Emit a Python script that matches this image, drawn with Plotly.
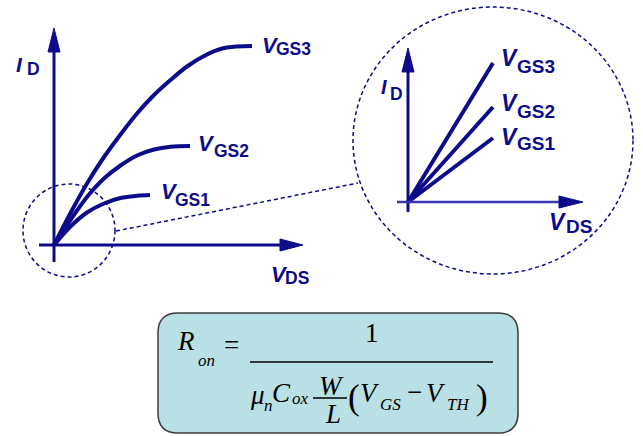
import plotly.graph_objects as go

W, H = 643, 436
NAVY = "#0c0c8a"

# ---- data ----
series_names = ["GS1", "GS2", "GS3"]
vds_gs1 = [0, 0.33, 0.66, 1.00, 1.33, 1.66, 1.92]
id_gs1 = [0, 0.37, 0.65, 0.83, 0.94, 0.985, 1.00]
vds_gs2 = [0, 0.33, 0.66, 1.00, 1.33, 1.66, 2.00, 2.33, 2.72]
id_gs2 = [0, 0.50, 0.96, 1.33, 1.59, 1.79, 1.91, 1.965, 1.98]
vds_gs3 = [0, 0.33, 0.66, 1.00, 1.33, 1.66, 2.00, 2.33, 2.66, 3.00, 3.33, 3.66, 3.96]
id_gs3 = [0, 0.64, 1.23, 1.76, 2.21, 2.63, 3.00, 3.30, 3.57, 3.78, 3.92, 3.97, 3.98]
# deep triode (zoomed) lines
inset_vds = [0, 1.70]
inset_id_gs1 = [0, 1.28]
inset_id_gs2 = [0, 1.90]
inset_id_gs3 = [0, 2.78]


def px(x):
    return x / W


def py(y):
    return 1 - y / H


fig = go.Figure()

# main curves
for xs, ys in [(vds_gs1, id_gs1), (vds_gs2, id_gs2), (vds_gs3, id_gs3)]:
    fig.add_trace(go.Scatter(x=xs, y=ys, mode="lines", line=dict(color=NAVY, width=4, shape="spline", smoothing=1.0),
                             hoverinfo="skip", showlegend=False, xaxis="x", yaxis="y"))
# inset lines
for ys in [inset_id_gs1, inset_id_gs2, inset_id_gs3]:
    fig.add_trace(go.Scatter(x=inset_vds, y=ys, mode="lines", line=dict(color=NAVY, width=4),
                             hoverinfo="skip", showlegend=False, xaxis="x2", yaxis="y2"))


def arrow_axes(xa, ya, xmin, xbase, xtip, ymin, ybase, ytip, hw, xcolor, xwidth):
    # vertical axis
    fig.add_trace(go.Scatter(x=[0, 0], y=[ymin, ybase + 0.05], mode="lines", line=dict(color=NAVY, width=3),
                             hoverinfo="skip", showlegend=False, xaxis=xa, yaxis=ya))
    fig.add_trace(go.Scatter(x=[-hw, hw, 0, -hw], y=[ybase, ybase, ytip, ybase], mode="lines", fill="toself",
                             fillcolor=NAVY, line=dict(color=NAVY, width=1),
                             hoverinfo="skip", showlegend=False, xaxis=xa, yaxis=ya))
    # horizontal axis
    fig.add_trace(go.Scatter(x=[xmin, xbase + 0.05], y=[0, 0], mode="lines", line=dict(color=xcolor, width=xwidth),
                             hoverinfo="skip", showlegend=False, xaxis=xa, yaxis=ya))
    fig.add_trace(go.Scatter(x=[xbase, xbase, xtip, xbase], y=[-hw, hw, 0, -hw], mode="lines", fill="toself",
                             fillcolor=NAVY, line=dict(color=NAVY, width=1),
                             hoverinfo="skip", showlegend=False, xaxis=xa, yaxis=ya))


arrow_axes("x", "y", -0.3, 4.52, 4.98, -0.34, 3.86, 4.34, 0.12, NAVY, 3)
arrow_axes("x2", "y2", -0.22, 3.02, 3.50, -0.2, 2.60, 3.08, 0.12, "#3636b0", 2.5)

shapes = []
dash = "4px,3px"
# small dashed circle
shapes.append(dict(type="circle", xref="paper", yref="paper", x0=px(23), x1=px(115), y0=py(277), y1=py(184),
                   line=dict(color=NAVY, width=1.5, dash=dash)))
# big dashed circle
shapes.append(dict(type="circle", xref="paper", yref="paper", x0=px(353), x1=px(633), y0=py(274), y1=py(7),
                   line=dict(color=NAVY, width=1.5, dash=dash)))
# connecting dashed line
shapes.append(dict(type="line", xref="paper", yref="paper", x0=px(116), y0=py(231), x1=px(358), y1=py(183),
                   line=dict(color=NAVY, width=1.5, dash=dash)))

# formula box (rounded)
bx0, bx1, by0, by1, r = 158, 518, 313, 433, 20
pts = [
    ("M", bx0 + r, by0), ("L", bx1 - r, by0), ("Q", bx1, by0, bx1, by0 + r), ("L", bx1, by1 - r),
    ("Q", bx1, by1, bx1 - r, by1), ("L", bx0 + r, by1), ("Q", bx0, by1, bx0, by1 - r), ("L", bx0, by0 + r),
    ("Q", bx0, by0, bx0 + r, by0),
]
path = ""
for p in pts:
    cmd = p[0]
    coords = p[1:]
    s = " ".join(f"{px(coords[i]):.5f},{py(coords[i + 1]):.5f}" for i in range(0, len(coords), 2))
    path += f"{cmd}{s} "
path += "Z"
shapes.append(dict(type="path", xref="paper", yref="paper", path=path, fillcolor="#b9e0e4",
                   line=dict(color="#3c3c3c", width=1.5), layer="below"))
# fraction bars
shapes.append(dict(type="line", xref="paper", yref="paper", x0=px(250), x1=px(493), y0=py(362), y1=py(362),
                   line=dict(color="black", width=1.3)))
shapes.append(dict(type="line", xref="paper", yref="paper", x0=px(313), x1=px(347), y0=py(398), y1=py(398),
                   line=dict(color="black", width=1.3)))

ann = []


def txt(t, x, y, size, family="Liberation Sans", color=NAVY, xanchor="left"):
    ann.append(dict(text=t, x=px(x), y=py(y), xref="paper", yref="paper", xanchor=xanchor, yanchor="middle",
                    showarrow=False, font=dict(family=family, size=size, color=color), borderpad=0))


# left labels
txt("<b><i>I</i></b>", 15, 65, 21)
txt("<b>D</b>", 26, 69, 17.5)
txt("<b><i>V</i></b>", 261, 45.5, 22)
txt("<b>" + series_names[2] + "</b>", 274.5, 49, 17.5)
txt("<b><i>V</i></b>", 197, 143.5, 22)
txt("<b>" + series_names[1] + "</b>", 213.5, 150.5, 17.5)
txt("<b><i>V</i></b>", 160, 191.5, 22)
txt("<b>" + series_names[0] + "</b>", 173.5, 200, 17.5)
txt("<b><i>V</i></b>", 270, 274.5, 22)
txt("<b>DS</b>", 284, 277.5, 17.5)
# inset labels
txt("<b><i>I</i></b>", 380, 87, 20)
txt("<b>D</b>", 389, 94, 17.5)
txt("<b><i>V</i></b>", 500, 58.5, 23)
txt("<b>" + series_names[2] + "</b>", 516, 66.5, 19)
txt("<b><i>V</i></b>", 500, 103.5, 23)
txt("<b>" + series_names[1] + "</b>", 516, 111.5, 19)
txt("<b><i>V</i></b>", 500, 136.5, 23)
txt("<b>" + series_names[0] + "</b>", 516, 143.5, 19)
txt("<b><i>V</i></b>", 548, 221.5, 23)
txt("<b>DS</b>", 565, 226.5, 19)

# formula
SERIF = "Liberation Serif"
K = "black"
txt("<i>R</i>", 186, 341, 27, SERIF, K, "center")
txt("<i>on</i>", 197, 360, 17, SERIF, K)
txt("=", 231, 345, 27, SERIF, K, "center")
txt("1", 372, 333, 27, SERIF, K, "center")
txt("<i>μ</i>", 257, 395, 27, SERIF, K, "center")
txt("<i>n</i>", 263, 405, 17, SERIF, K)
txt("<i>C</i>", 281, 393, 27, SERIF, K, "center")
txt("<i>ox</i>", 291, 398, 17, SERIF, K)
txt("<i>W</i>", 331, 386, 27, SERIF, K, "center")
txt("<i>L</i>", 333, 414, 27, SERIF, K, "center")
txt("(", 354, 397, 35, SERIF, K, "center")
txt("<i>V</i>", 370, 393, 27, SERIF, K, "center")
txt("<i>GS</i>", 379, 404, 17, SERIF, K)
txt("−", 415, 392, 27, SERIF, K, "center")
txt("<i>V</i>", 436, 393, 27, SERIF, K, "center")
txt("<i>TH</i>", 446, 404, 17, SERIF, K)
txt(")", 482, 397, 35, SERIF, K, "center")

hidden = dict(visible=False, showgrid=False, zeroline=False, fixedrange=True)
fig.update_layout(
    width=W, height=H, autosize=False,
    margin=dict(l=0, r=0, t=0, b=0, pad=0),
    paper_bgcolor="white", plot_bgcolor="white",
    xaxis=dict(range=[-54 / 50, 589 / 50], domain=[0, 1], **hidden),
    yaxis=dict(range=[(245 - 436) / 50, 245 / 50], domain=[0, 1], **hidden),
    xaxis2=dict(range=[-408 / 50, 235 / 50], overlaying="x", **hidden),
    yaxis2=dict(range=[(202 - 436) / 50, 202 / 50], overlaying="y", **hidden),
    shapes=shapes, annotations=ann, showlegend=False,
)
fig.write_html("out.html", config={"displayModeBar": False},
               post_script="document.body.style.margin='0';document.body.style.padding='0';")
